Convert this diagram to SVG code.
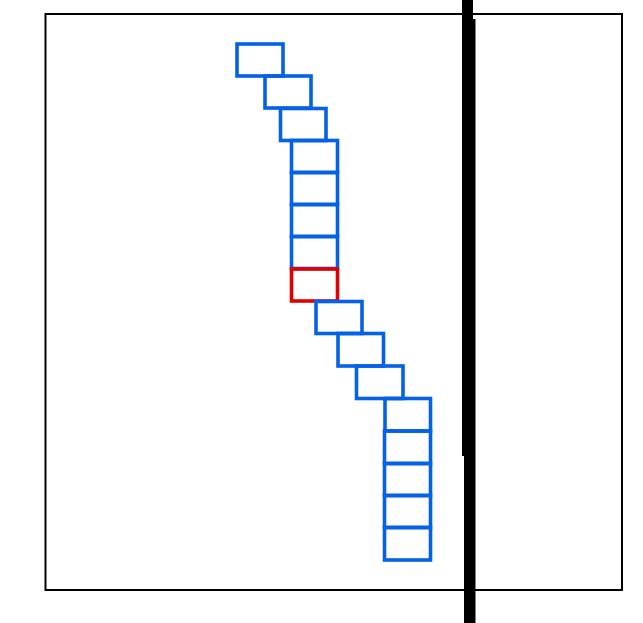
<svg xmlns="http://www.w3.org/2000/svg" width="643" height="623" viewBox="0 0 643 623">
<style>
.frame{fill:none;stroke:#000;stroke-width:2}
.b{fill:none;stroke:#0561e6;stroke-width:3.6;stroke-linejoin:miter}
.r{fill:none;stroke:#e00000;stroke-width:3.6}
.wall{fill:#000;stroke:none}
</style>
<rect width="643" height="623" fill="#fff"/>
<g id="frame"><rect class="frame" x="45.5" y="14" width="576.5" height="576"/></g>
<g id="wall"><polygon class="wall" points="462,0 473,0 473,19 475.5,19 475.5,623 464,623 464,456 462,456"/></g>
<g id="boxes">
<g id="box1"><rect class="b" x="237" y="44" width="46" height="32"/></g>
<g id="box2"><rect class="b" x="265" y="76" width="46" height="32"/></g>
<g id="box3"><rect class="b" x="280.5" y="108.5" width="45.5" height="32"/></g>
<g id="box4"><rect class="b" x="291.5" y="140.5" width="46" height="32"/></g>
<g id="box5"><rect class="b" x="291.5" y="172.5" width="46" height="32"/></g>
<g id="box6"><rect class="b" x="291.5" y="204.5" width="46" height="32"/></g>
<g id="box7"><rect class="b" x="291.5" y="236.5" width="46" height="32"/></g>
<g id="box8"><rect class="r" x="291.5" y="269" width="46" height="32"/></g>
<g id="box9"><rect class="b" x="316" y="301.5" width="46" height="32"/></g>
<g id="box10"><rect class="b" x="338" y="333.5" width="45.5" height="32.5"/></g>
<g id="box11"><rect class="b" x="356.5" y="366" width="46.5" height="32.5"/></g>
<g id="box12"><rect class="b" x="385" y="398.5" width="45.5" height="32.5"/></g>
<g id="box13"><rect class="b" x="384.5" y="431" width="46" height="32.5"/></g>
<g id="box14"><rect class="b" x="384.5" y="463.5" width="46" height="32"/></g>
<g id="box15"><rect class="b" x="384.5" y="495.5" width="46" height="32"/></g>
<g id="box16"><rect class="b" x="384.5" y="527.5" width="46" height="32.5"/></g>
</g>
</svg>
